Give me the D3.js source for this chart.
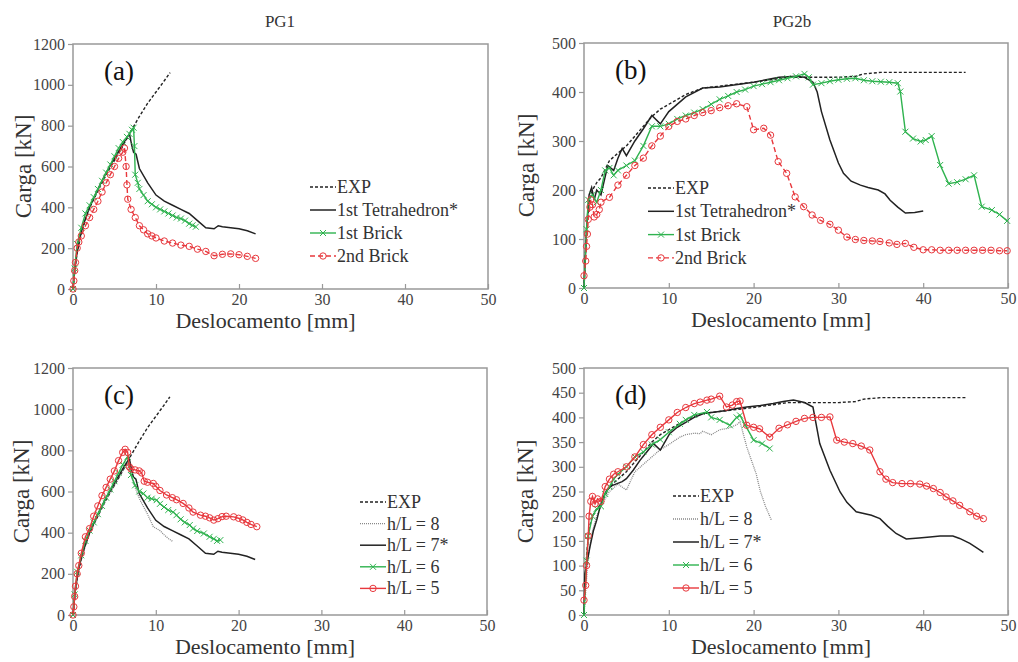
<!DOCTYPE html>
<html>
<head>
<meta charset="utf-8">
<script src="https://cdn.jsdelivr.net/npm/d3@7"></script>
<style>
  body { margin: 0; background: #fff; }
  svg text { font-family: "Liberation Serif", "Times New Roman", serif; fill: #333; }
</style>
</head>
<body>
<div id="chart"></div>
<script>
// ---- data (x = displacement mm, y = load kN) ----
var pg1_exp = [[0,0],[0.2,80],[0.5,180],[1,270],[1.5,340],[2,400],[3,480],[4,560],[5,630],[6,700],[7,775],[8,845],[9,910],[10,965],[11,1020],[11.7,1060]];
var pg1_tetra = [[0,0],[0.3,130],[0.7,230],[1.2,310],[2,400],[3,490],[4,570],[5,640],[6,710],[6.8,760],[7.1,700],[7.3,670],[7.6,660],[8,590],[9,520],[10,460],[11,430],[12,410],[13,390],[14,370],[15,335],[16,300],[17,295],[17.5,310],[18,305],[19,300],[20,295],[21,285],[22,270]];
var pg1_brick1 = [[0,0],[0.2,100],[0.5,220],[1,300],[1.5,370],[2,410],[2.5,450],[3,490],[3.5,530],[4,570],[4.5,610],[5,650],[5.5,690],[6,720],[6.5,745],[6.8,760],[7.1,780],[7.3,790],[7.4,700],[7.5,560],[7.8,520],[8,490],[8.5,460],[9,430],[9.5,415],[10,400],[10.5,390],[11,380],[11.5,370],[12,360],[12.5,350],[13,345],[13.5,335],[14,320],[14.4,312],[14.8,305]];
var pg1_brick2 = [[0,0],[0.1,40],[0.2,90],[0.3,130],[0.5,200],[0.7,230],[1,260],[1.5,310],[2,350],[2.5,390],[3,430],[3.5,475],[4,520],[4.5,560],[5,600],[5.5,640],[6,670],[6.2,690],[6.4,600],[6.5,510],[6.6,440],[7,390],[7.5,350],[8,310],[8.5,290],[9,270],[9.5,260],[10,250],[11,235],[12,225],[13,215],[14,209],[15,195],[16,184],[17,163],[18,170],[19,172],[20,168],[21,160],[22,150]];

var pg2_exp = [[0,0],[0.3,120],[0.6,175],[1,200],[1.5,215],[2,225],[3,260],[4,275],[5,290],[6,310],[7,330],[8,350],[9,365],[10,375],[11,385],[12,395],[14,408],[16,412],[18,416],[20,420],[22,425],[24,430],[27,430],[30,430],[32,432],[33,437],[35,440],[38,440],[40,440],[42,440],[45,440]];
var pg2_tetra = [[0,0],[0.3,120],[0.6,190],[0.9,205],[1.2,180],[1.5,200],[2,190],[2.8,250],[3.5,240],[4,265],[4.5,285],[5,270],[6,300],[7,325],[8,352],[9,335],[10,360],[12,390],[14,408],[16,410],[20,420],[23,430],[25,432],[26,430],[27,420],[27.5,400],[28,360],[29,302],[30,255],[30.6,234],[31.5,218],[32.6,210],[33.5,205],[34.7,200],[35.5,192],[36.1,179],[37,165],[37.9,153],[39,154],[40,157]];
var pg2_brick1 = [[0,0],[0.3,120],[0.5,180],[1,190],[1.5,175],[2,200],[2.5,240],[3,245],[3.5,230],[4,240],[5,250],[6,260],[7,290],[8,330],[9,330],[10,335],[11,345],[12,352],[13,358],[14,365],[15,375],[16,385],[17,392],[18,400],[19,405],[20,412],[21,416],[22,420],[23,424],[24,428],[25,432],[26,437],[26.5,430],[27,415],[28,418],[29,422],[30,425],[31,427],[32,428],[33,424],[34,422],[35,421],[36,420],[37,418],[37.3,401],[37.9,319],[38.8,305],[39.7,299],[40.3,302],[41,310],[42,251],[43,213],[44,216],[45,222],[46,230],[46.9,166],[48.1,159],[49,150],[49.9,137]];
var pg2_brick2 = [[0,25],[0.2,55],[0.3,85],[0.4,110],[0.5,140],[0.7,165],[0.8,180],[1,170],[1.2,145],[1.5,150],[1.8,160],[2,175],[3,185],[4,210],[5,230],[6,250],[7,265],[8,290],[9,310],[10,330],[11,340],[12,345],[13,352],[14,358],[15,362],[16,368],[17,372],[18,376],[19.2,370],[20,323],[21.2,326],[22,312],[22.9,258],[23.9,234],[24.9,186],[25.9,166],[26.9,149],[27.9,138],[29,130],[30,118],[31,104],[32,99],[33,97],[34,96],[34.9,95],[36,92],[36.9,89],[37.9,91],[38.9,83],[40,78],[41,78],[42,77],[43,77],[44,77],[45,77],[46,77],[47,77],[48,77],[49,76],[49.9,76]];

var pg1_hl8 = [[0,0],[0.3,120],[0.7,220],[1.2,300],[2,395],[3,480],[4,560],[5,630],[6,700],[6.5,740],[7,680],[7.5,620],[8.1,558],[9,490],[9.7,429],[10.5,410],[11,390],[11.5,372],[12.1,356]];
var pg1_hl6 = [[0,0],[0.2,100],[0.5,210],[1,290],[1.5,360],[2,410],[2.5,450],[3,490],[3.5,530],[4,570],[4.5,610],[5,650],[5.5,690],[6,730],[6.6,769],[7,680],[7.5,630],[8,600],[8.5,590],[9,570],[9.5,565],[10.1,558],[10.5,540],[11,525],[11.5,510],[12.1,500],[12.5,485],[13,465],[13.5,450],[14.1,437],[14.5,420],[15,408],[15.8,396],[16.5,380],[17,370],[17.4,360],[17.8,364]];
var pg1_hl5 = [[0,0],[0.1,40],[0.2,90],[0.3,140],[0.5,200],[0.7,240],[1,300],[1.5,380],[2,420],[2.5,480],[3,530],[3.5,580],[4,620],[4.5,660],[5,700],[5.5,750],[6,790],[6.3,805],[6.6,790],[6.8,720],[7,710],[7.5,705],[8,700],[8.3,690],[8.6,650],[9,645],[9.7,639],[10,625],[10.5,605],[11.3,583],[12,570],[12.5,560],[13.3,542],[14,520],[14.5,500],[15.4,485],[16,480],[16.5,472],[17,461],[17.5,468],[18,478],[18.5,480],[19.4,477],[20,470],[20.5,462],[21,450],[21.5,440],[22.2,429]];

var pg2_hl8 = [[0,0],[0.5,120],[1,170],[1.5,200],[2,220],[3,250],[4,265],[5,253],[6,290],[7,305],[8,320],[9,335],[10,345],[11.3,360],[12,365],[13,368],[13.7,367],[14,372],[15,365],[16,375],[17,378],[18,385],[18.4,391],[19.2,340],[19.6,320],[20.3,286],[20.8,250],[21.4,220],[22.1,192]];
var pg2_hl7 = [[0,0],[0.1,84],[0.4,110],[0.7,138],[1.1,170],[1.5,192],[1.9,219],[2.3,240],[2.7,253],[3.3,262],[3.9,266],[4.5,270],[5,276],[5.8,293],[6.6,313],[7.4,330],[8.2,347],[9,334],[10.1,367],[11,380],[12.1,391],[13,400],[14.1,408],[15.5,411],[16.8,414],[18,418],[19.2,421],[20.8,424],[22.3,428],[23.5,432],[24.7,435],[26,430],[27,421],[27.8,347],[29,293],[30.2,249],[31,228],[32.1,209],[33.9,202],[34.9,195],[35.8,180],[36.8,165],[38,154],[39.5,156],[40.8,158],[42,160],[43.5,160],[44.3,155],[45.5,145],[46.4,135],[47.1,127]];
var pg2_hl6 = [[0,0],[0.3,110],[0.5,160],[1,200],[1.5,215],[2,220],[2.5,245],[3,260],[3.5,275],[4,285],[5,300],[6,320],[7,330],[8,345],[9,355],[10,370],[11.3,387],[12,395],[13,405],[14.5,411],[15,400],[16,395],[17.2,384],[18,400],[18.4,404],[19,385],[20,354],[21,347],[21.9,337]];
var pg2_hl5 = [[0,30],[0.2,60],[0.3,100],[0.5,160],[0.6,200],[0.8,230],[1,240],[1.3,225],[1.6,235],[2,230],[2.5,260],[3,275],[3.5,285],[4,290],[5,300],[6,320],[7,345],[8,365],[9,380],[10,395],[11,410],[12,420],[13,428],[13.7,431],[14.5,435],[15,437],[16,443],[16.8,421],[17.5,425],[18,432],[18.4,433],[19.2,384],[20,380],[20.7,377],[21.9,360],[23,378],[24,385],[25,392],[26,398],[27,400],[28,400],[29,401],[29.8,354],[30.7,350],[31.7,347],[32.7,342],[33.7,334],[34.9,290],[35.6,275],[36.4,268],[37.5,266],[38.5,266],[39.6,265],[40.4,261],[41.2,256],[42,248],[42.7,239],[43.5,231],[44.3,222],[45.5,209],[46.3,200],[47.1,195]];

var xTicks = [0, 10, 20, 30, 40, 50];
var yTicksPG1 = [0, 200, 400, 600, 800, 1000, 1200];
var yTicksPG2a = [0, 100, 200, 300, 400, 500];
var yTicksPG2b = [0, 50, 100, 150, 200, 250, 300, 350, 400, 450, 500];

// ---- styles ----
var serif = "'Liberation Serif', 'Times New Roman', serif";
var styles = {
  exp:    { color: "#222", width: 1.4, dash: "3,2", marker: null },
  tetra:  { color: "#222", width: 1.5, dash: null, marker: null },
  brick1: { color: "#2fb34f", width: 1.4, dash: null, marker: "x" },
  brick2: { color: "#e8383d", width: 1.4, dash: "5,3", marker: "o" },
  hl8:    { color: "#888", width: 1.3, dash: "1,1", marker: null },
  hl7:    { color: "#222", width: 1.5, dash: null, marker: null },
  hl6:    { color: "#2fb34f", width: 1.4, dash: null, marker: "x" },
  hl5:    { color: "#e8383d", width: 1.4, dash: null, marker: "o" }
};

var width = 1018, height = 662;
var svg = d3.select("#chart").append("svg")
            .attr("width", width)
            .attr("height", height)
            .attr("font-family", serif);

svg.append("text").attr("x", 280).attr("y", 27).attr("text-anchor", "middle")
   .style("font-size", "17px").text("PG1");
svg.append("text").attr("x", 792).attr("y", 27).attr("text-anchor", "middle")
   .style("font-size", "17px").text("PG2b");

function drawMarker(g, st, x, y) {
  if (st.marker == "x") {
    var s = 3;
    g.append("path")
     .attr("d", "M" + (x - s) + "," + (y - s) + "L" + (x + s) + "," + (y + s) +
                "M" + (x - s) + "," + (y + s) + "L" + (x + s) + "," + (y - s))
     .style("stroke", st.color).style("stroke-width", 1).style("fill", "none");
  } else if (st.marker == "o") {
    g.append("circle").attr("cx", x).attr("cy", y).attr("r", 3.2)
     .style("stroke", st.color).style("stroke-width", 1).style("fill", "none");
  }
}

function drawPanel(p) {
  var g = svg.append("g");
  var x = d3.scaleLinear().domain([0, 50]).range([p.left, p.right]);
  var y = d3.scaleLinear().domain([0, p.ymax]).range([p.bottom, p.top]);

  // frame
  g.append("rect")
   .attr("x", p.left).attr("y", p.top)
   .attr("width", p.right - p.left).attr("height", p.bottom - p.top)
   .style("fill", "none").style("stroke", "#999").style("stroke-width", 1.5);

  // axes: x ticks point inward, y ticks outward
  var xAxis = d3.axisBottom(x).tickValues(xTicks).tickFormat(d3.format("d"))
                .tickSizeInner(-5).tickSizeOuter(0).tickPadding(5);
  var yAxis = d3.axisLeft(y).tickValues(p.yTicks).tickFormat(d3.format("d"))
                .tickSizeInner(5).tickSizeOuter(0).tickPadding(3);
  var gx = g.append("g").attr("transform", "translate(0," + p.bottom + ")").call(xAxis);
  var gy = g.append("g").attr("transform", "translate(" + p.left + ",0)").call(yAxis);
  [gx, gy].forEach(function(a) {
    a.attr("font-family", serif).attr("font-size", 16);
    a.select(".domain").remove();
    a.selectAll("line").style("stroke", "#999").style("stroke-width", 1.2);
    a.selectAll("text").attr("font-family", serif).style("font-size", "16px").style("fill", "#444");
  });

  // axis titles
  g.append("text")
   .attr("x", (p.left + p.right) / 2 - 15).attr("y", p.bottom + 39)
   .attr("text-anchor", "middle").style("font-size", "22px")
   .text("Deslocamento [mm]");
  g.append("text")
   .attr("transform", "translate(" + (p.left - p.titleOff) + "," + ((p.top + p.bottom) / 2) + ") rotate(-90)")
   .attr("text-anchor", "middle").style("font-size", "23px")
   .text("Carga [kN]");

  // panel letter
  g.append("text").attr("x", p.left + 31).attr("y", p.top + 36)
   .style("font-size", "27px").style("fill", "#111").text(p.letter);

  var line = d3.line().x(function(d){ return x(d[0]); }).y(function(d){ return y(d[1]); });

  p.series.forEach(function(s) {
    var st = styles[s.style];
    g.append("path").datum(s.data)
     .attr("d", line)
     .style("fill", "none")
     .style("stroke", st.color)
     .style("stroke-width", st.width)
     .style("stroke-dasharray", st.dash);
    if (st.marker) {
      s.data.forEach(function(d) {
        drawMarker(g, st, x(d[0]), y(d[1]));
      });
    }
  });

  // legend
  var lg = g.append("g").attr("transform", "translate(" + p.legX + "," + p.legY + ")");
  p.series.forEach(function(s, i) {
    var st = styles[s.style];
    var yy = i * p.legStep;
    lg.append("line").attr("x1", 0).attr("x2", 26).attr("y1", yy).attr("y2", yy)
      .style("stroke", st.color).style("stroke-width", st.width)
      .style("stroke-dasharray", st.dash);
    drawMarker(lg, st, 13, yy);
    lg.append("text").attr("x", 27).attr("y", yy + 6)
      .style("font-size", "18px").text(s.name);
  });
}

drawPanel({
  left: 73, right: 488, top: 44, bottom: 289, ymax: 1200, yTicks: yTicksPG1, letter: "(a)",
  titleOff: 42, legX: 310, legY: 187, legStep: 23,
  series: [
    { name: "EXP", data: pg1_exp, style: "exp" },
    { name: "1st Tetrahedron*", data: pg1_tetra, style: "tetra" },
    { name: "1st Brick", data: pg1_brick1, style: "brick1" },
    { name: "2nd Brick", data: pg1_brick2, style: "brick2" }
  ]
});

drawPanel({
  left: 584, right: 1008, top: 43, bottom: 288, ymax: 500, yTicks: yTicksPG2a, letter: "(b)",
  titleOff: 50, legX: 648, legY: 188, legStep: 23.3,
  series: [
    { name: "EXP", data: pg2_exp, style: "exp" },
    { name: "1st Tetrahedron*", data: pg2_tetra, style: "tetra" },
    { name: "1st Brick", data: pg2_brick1, style: "brick1" },
    { name: "2nd Brick", data: pg2_brick2, style: "brick2" }
  ]
});

drawPanel({
  left: 73, right: 487, top: 368, bottom: 615, ymax: 1200, yTicks: yTicksPG1, letter: "(c)",
  titleOff: 44, legX: 360, legY: 502, legStep: 21.6,
  series: [
    { name: "EXP", data: pg1_exp, style: "exp" },
    { name: "h/L = 8", data: pg1_hl8, style: "hl8" },
    { name: "h/L = 7*", data: pg1_tetra, style: "hl7" },
    { name: "h/L = 6", data: pg1_hl6, style: "hl6" },
    { name: "h/L = 5", data: pg1_hl5, style: "hl5" }
  ]
});

drawPanel({
  left: 584, right: 1008, top: 368, bottom: 615, ymax: 500, yTicks: yTicksPG2b, letter: "(d)",
  titleOff: 51, legX: 673, legY: 496, legStep: 23,
  series: [
    { name: "EXP", data: pg2_exp, style: "exp" },
    { name: "h/L = 8", data: pg2_hl8, style: "hl8" },
    { name: "h/L = 7*", data: pg2_hl7, style: "hl7" },
    { name: "h/L = 6", data: pg2_hl6, style: "hl6" },
    { name: "h/L = 5", data: pg2_hl5, style: "hl5" }
  ]
});
</script>
</body>
</html>
